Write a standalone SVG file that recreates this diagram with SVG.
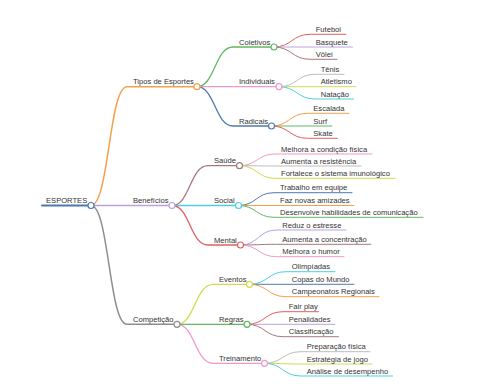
<svg xmlns="http://www.w3.org/2000/svg" width="480" height="384" viewBox="0 0 480 384">
<style>
text{font-family:"Liberation Sans",Arial,sans-serif;font-size:7.6px;fill:#333}
path{fill:none;stroke-linecap:round}
.l0{stroke-width:2}
.l1{stroke-width:1.5}
.l2{stroke-width:1.3}
.l3{stroke-width:1}
circle{fill:#fff;stroke-width:1.2}
.blue{stroke:#4e79b0}.orange{stroke:#f7a04a}.purple{stroke:#b9a3dd}.gray{stroke:#8e8e8e}
.green{stroke:#62b862}.pink{stroke:#f09ac8}.red{stroke:#e06060}.brown{stroke:#a57880}
.lgray{stroke:#bdbdbd}.olive{stroke:#cfdc4a}.cyan{stroke:#4dcfe0}
</style>
<rect width="480" height="384" fill="#fff"/>
<g id="connectors">
<path class="l0 blue" d="M42 205.5 L91 205.5"/>
<path class="l1 orange" d="M91 205.5 C109 205.5,109 86.7,127 86.7 L197 86.7"/>
<path class="l1 purple" d="M91 205.5 L172 205.5"/>
<path class="l1 gray" d="M91 205.5 C109 205.5,109 324.3,127 324.3 L177 324.3"/>
<path class="l2 green" d="M197 86.7 C215 86.7,215 47,233 47 L274 47"/>
<path class="l2 pink" d="M197 86.7 L279 86.7"/>
<path class="l2 blue" d="M197 86.7 C215 86.7,215 126,233 126 L271.5 126"/>
<path class="l3 red" d="M274 47 C292 47,292 34.3,310 34.3 L346 34.3"/>
<path class="l3 purple" d="M274 47 L352.5 47"/>
<path class="l3 brown" d="M274 47 C292 47,292 59.3,310 59.3 L337 59.3"/>
<path class="l3 lgray" d="M279 86.7 C297 86.7,297 74.3,315 74.3 L344 74.3"/>
<path class="l3 olive" d="M279 86.7 L356 86.7"/>
<path class="l3 cyan" d="M279 86.7 C297 86.7,297 99,315 99 L353.5 99"/>
<path class="l3 orange" d="M271.5 126 C289.5 126,289.5 113.3,307.5 113.3 L349 113.3"/>
<path class="l3 green" d="M271.5 126 L332 126"/>
<path class="l3 red" d="M271.5 126 C289.5 126,289.5 138.3,307.5 138.3 L337.5 138.3"/>
<path class="l2 brown" d="M172 205.5 C190 205.5,190 165.7,208 165.7 L239.5 165.7"/>
<path class="l2 cyan" d="M172 205.5 L238.5 205.5"/>
<path class="l2 red" d="M172 205.5 C190 205.5,190 245,208 245 L240.5 245"/>
<path class="l3 pink" d="M239.5 165.7 C257.3 165.7,257.3 154,275 154 L372 154"/>
<path class="l3 lgray" d="M239.5 165.7 C257.3 165.7,257.3 166,275 166 L361 166"/>
<path class="l3 olive" d="M239.5 165.7 C257.3 165.7,257.3 178.3,275 178.3 L395 178.3"/>
<path class="l3 blue" d="M238.5 205.5 C256.3 205.5,256.3 192.7,274 192.7 L352 192.7"/>
<path class="l3 orange" d="M238.5 205.5 L354 205.5"/>
<path class="l3 green" d="M238.5 205.5 C256.3 205.5,256.3 217.3,274 217.3 L423 217.3"/>
<path class="l3 purple" d="M240.5 245 C258.5 245,258.5 230,276.5 230 L346 230"/>
<path class="l3 brown" d="M240.5 245 C258.5 245,258.5 244.3,276.5 244.3 L371 244.3"/>
<path class="l3 pink" d="M240.5 245 C258.5 245,258.5 256.7,276.5 256.7 L344 256.7"/>
<path class="l2 olive" d="M177 324.3 C195 324.3,195 284.3,213 284.3 L249.5 284.3"/>
<path class="l2 green" d="M177 324.3 L247 324.3"/>
<path class="l2 pink" d="M177 324.3 C195 324.3,195 363.3,213 363.3 L264.5 363.3"/>
<path class="l3 cyan" d="M249.5 284.3 C267.7 284.3,267.7 271.7,286 271.7 L335 271.7"/>
<path class="l3 blue" d="M249.5 284.3 L354 284.3"/>
<path class="l3 orange" d="M249.5 284.3 C267.7 284.3,267.7 296.7,286 296.7 L379 296.7"/>
<path class="l3 red" d="M247 324.3 C265 324.3,265 311.7,283 311.7 L318.5 311.7"/>
<path class="l3 purple" d="M247 324.3 L335 324.3"/>
<path class="l3 brown" d="M247 324.3 C265 324.3,265 336.7,283 336.7 L338.5 336.7"/>
<path class="l3 lgray" d="M264.5 363.3 C282.7 363.3,282.7 351.7,301 351.7 L370 351.7"/>
<path class="l3 olive" d="M264.5 363.3 C282.7 363.3,282.7 364,301 364 L372 364"/>
<path class="l3 cyan" d="M264.5 363.3 C282.7 363.3,282.7 376,301 376 L392.5 376"/>
</g>
<g id="root"><circle class="blue" cx="91" cy="205.5" r="3"/><text x="46" y="203">ESPORTES</text></g>
<g id="tipos"><circle class="orange" cx="197" cy="86.7" r="3"/><text x="133" y="84.3">Tipos de Esportes</text></g>
<g id="beneficios"><circle class="purple" cx="172" cy="205.5" r="3"/><text x="133" y="203">Benefícios</text></g>
<g id="competicao"><circle class="gray" cx="177" cy="324.3" r="3"/><text x="133" y="321.9">Competição</text></g>
<g id="coletivos"><circle class="green" cx="274" cy="47" r="3"/><text x="239" y="44.6">Coletivos</text></g>
<g id="individuais"><circle class="pink" cx="279" cy="86.7" r="3"/><text x="239" y="84.3">Individuais</text></g>
<g id="radicais"><circle class="blue" cx="271.5" cy="126" r="3"/><text x="239" y="123.6">Radicais</text></g>
<g id="futebol"><text x="315.7" y="31.9">Futebol</text></g>
<g id="basquete"><text x="315.7" y="44.6">Basquete</text></g>
<g id="volei"><text x="315.7" y="56.9">Vôlei</text></g>
<g id="tenis"><text x="320.7" y="71.9">Tênis</text></g>
<g id="atletismo"><text x="320.7" y="84.3">Atletismo</text></g>
<g id="natacao"><text x="320.7" y="96.6">Natação</text></g>
<g id="escalada"><text x="313.3" y="110.9">Escalada</text></g>
<g id="surf"><text x="313.3" y="123.6">Surf</text></g>
<g id="skate"><text x="313.3" y="135.9">Skate</text></g>
<g id="saude"><circle class="brown" cx="239.5" cy="165.7" r="3"/><text x="214" y="163.3">Saúde</text></g>
<g id="social"><circle class="cyan" cx="238.5" cy="205.5" r="3"/><text x="214" y="203">Social</text></g>
<g id="mental"><circle class="red" cx="240.5" cy="245" r="3"/><text x="214" y="242.6">Mental</text></g>
<g id="condicao"><text x="281" y="151.6">Melhora a condição física</text></g>
<g id="resistencia"><text x="281" y="163.6">Aumenta a resistência</text></g>
<g id="imunologico"><text x="281" y="175.9">Fortalece o sistema imunológico</text></g>
<g id="equipe"><text x="280" y="190.3">Trabalho em equipe</text></g>
<g id="amizades"><text x="280" y="202.6">Faz novas amizades</text></g>
<g id="comunicacao"><text x="280" y="214.9">Desenvolve habilidades de comunicação</text></g>
<g id="estresse"><text x="282.3" y="227.6">Reduz o estresse</text></g>
<g id="concentracao"><text x="282.3" y="241.9">Aumenta a concentração</text></g>
<g id="humor"><text x="282.3" y="254.3">Melhora o humor</text></g>
<g id="eventos"><circle class="olive" cx="249.5" cy="284.3" r="3"/><text x="219" y="281.9">Eventos</text></g>
<g id="regras"><circle class="green" cx="247" cy="324.3" r="3"/><text x="219" y="321.9">Regras</text></g>
<g id="treinamento"><circle class="pink" cx="264.5" cy="363.3" r="3"/><text x="219" y="360.9">Treinamento</text></g>
<g id="olimpiadas"><text x="291.7" y="269.3">Olimpíadas</text></g>
<g id="copas"><text x="291.7" y="281.6">Copas do Mundo</text></g>
<g id="campeonatos"><text x="291.7" y="294.3">Campeonatos Regionais</text></g>
<g id="fairplay"><text x="288.7" y="309.3">Fair play</text></g>
<g id="penalidades"><text x="288.7" y="321.9">Penalidades</text></g>
<g id="classificacao"><text x="288.7" y="334.3">Classificação</text></g>
<g id="preparacao"><text x="306.7" y="349.3">Preparação física</text></g>
<g id="estrategia"><text x="306.7" y="361.6">Estratégia de jogo</text></g>
<g id="analise"><text x="306.7" y="373.6">Análise de desempenho</text></g>
</svg>
